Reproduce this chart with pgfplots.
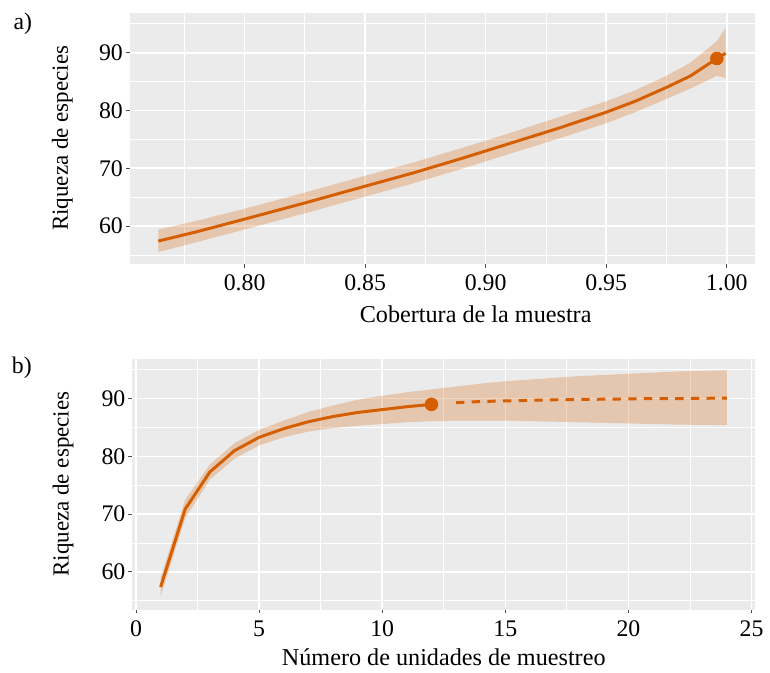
\documentclass[border=0pt]{standalone}
\usepackage{fontspec}
\setmainfont{Liberation Serif}
\usepackage{pgfplots}
\usepackage{pgfplotstable}
\pgfplotsset{compat=1.18}
\usepgfplotslibrary{fillbetween}

\definecolor{verm}{HTML}{D55E00}
\definecolor{panelbg}{HTML}{EBEBEB}

% panel a: coverage vs richness (x, mean, lower, upper)
\pgfplotstableread{
x      y     lo    hi
0.7642 57.4  55.5  59.4
0.780  59.0  57.2  60.9
0.800  61.2  59.4  63.0
0.825  64.0  62.2  65.8
0.850  66.9  65.1  68.7
0.870  69.2  67.4  71.0
0.890  71.7  69.9  73.5
0.910  74.3  72.5  76.1
0.930  76.9  75.1  78.8
0.950  79.7  77.8  81.6
0.962  81.6  79.7  83.5
0.975  84.0  82.0  86.0
0.985  86.0  83.8  88.3
0.9959 89.0  86.0  92.0
0.9995 89.9  85.6  94.3
}\covtab

% panel b: sampling units vs richness
\pgfplotstableread{
x  y     lo    hi
1  57.4  55.8  59.0
2  70.9  69.3  72.5
3  77.3  76.0  78.6
4  81.0  79.6  82.3
5  83.3  81.9  84.6
6  84.8  83.3  86.2
7  86.0  84.3  87.7
8  86.9  84.9  88.8
9  87.6  85.3  89.8
10 88.1  85.6  90.5
11 88.6  85.9  91.1
12 89.0  86.1  91.6
13 89.3  86.2  92.1
14 89.5  86.2  92.6
15 89.6  86.2  93.0
16 89.7  86.1  93.3
17 89.8  86.0  93.6
18 89.85 85.9  93.9
19 89.9  85.8  94.1
20 89.95 85.7  94.3
21 90.0  85.6  94.5
22 90.0  85.5  94.7
23 90.05 85.45 94.8
24 90.1  85.4  94.9
}\sutab

\pgfplotsset{
  gg/.style={
    scale only axis,
    anchor=south west,
    height=126.5pt,
    ymin=53.5, ymax=96.9,
    ytick={60,70,80,90},
    minor ytick={55,65,75,85,95},
    axis background/.style={fill=panelbg},
    axis lines*=left,
    axis line style={draw=none},
    grid=both,
    major grid style={white, line width=0.8pt},
    minor grid style={white, line width=0.4pt},
    tick align=outside,
    major tick length=2pt,
    minor tick length=0pt,
    tick style={black!70, line width=0.5pt},
    /pgf/number format/assume math mode=true,
    tick label style={font=\fontsize{12}{14}\selectfont},
    yticklabel style={xshift=2pt},
    x label style={font=\fontsize{12.2}{14}\selectfont},
    y label style={font=\fontsize{11.6}{14}\selectfont},
    ylabel={Riqueza de especies},
  },
}

\begin{document}
\begin{tikzpicture}[font=\fontsize{12}{14}\selectfont]

\begin{axis}[gg,
  at={(65.5pt,203.5pt)},
  width=315.5pt,
  xmin=0.7524, xmax=1.0118,
  xtick={0.80,0.85,0.90,0.95,1.00},
  minor xtick={0.775,0.825,0.875,0.925,0.975},
  xticklabel style={/pgf/number format/.cd, fixed, fixed zerofill, precision=2},
  xlabel={Cobertura de la muestra},
  x label style={at={(axis description cs:0.553,-0.2)}, anchor=center},
  y label style={at={(axis description cs:-0.108,0.5)}, anchor=center},
]
\addplot[draw=none, name path=ahi] table[x=x, y=hi] {\covtab};
\addplot[draw=none, name path=alo] table[x=x, y=lo] {\covtab};
\addplot[fill=verm, fill opacity=0.25, draw=none] fill between[of=ahi and alo];
\addplot[verm, line width=1.5pt] table[x=x, y=y] {\covtab};
\addplot[verm, only marks, mark=*, mark size=3.2pt] coordinates {(0.9959,89.0)};
\end{axis}

\begin{axis}[gg,
  at={(66.75pt,29pt)},
  width=314.25pt,
  xmin=-0.15, xmax=25.15,
  xtick={0,5,10,15,20,25},
  minor xtick={2.5,7.5,12.5,17.5,22.5},
  xlabel={Número de unidades de muestreo},
  x label style={at={(axis description cs:0.5,-0.19)}, anchor=center},
  y label style={at={(axis description cs:-0.111,0.5)}, anchor=center},
]
\addplot[draw=none, name path=bhi] table[x=x, y=hi] {\sutab};
\addplot[draw=none, name path=blo] table[x=x, y=lo] {\sutab};
\addplot[fill=verm, fill opacity=0.25, draw=none] fill between[of=bhi and blo];
\addplot[verm, line width=1.5pt, restrict x to domain=1:12] table[x=x, y=y] {\sutab};
\addplot[verm, line width=1.5pt, dash pattern=on 4.2pt off 3.7pt, restrict x to domain=13:24] table[x=x, y=y] {\sutab};
\addplot[verm, only marks, mark=*, mark size=3.2pt] coordinates {(12,89.0)};
\end{axis}

\node at (11.5pt,324.5pt) {a)};
\node at (11pt,151pt) {b)};
\path (0,0) rectangle (385pt,336.5pt);
\end{tikzpicture}
\end{document}
